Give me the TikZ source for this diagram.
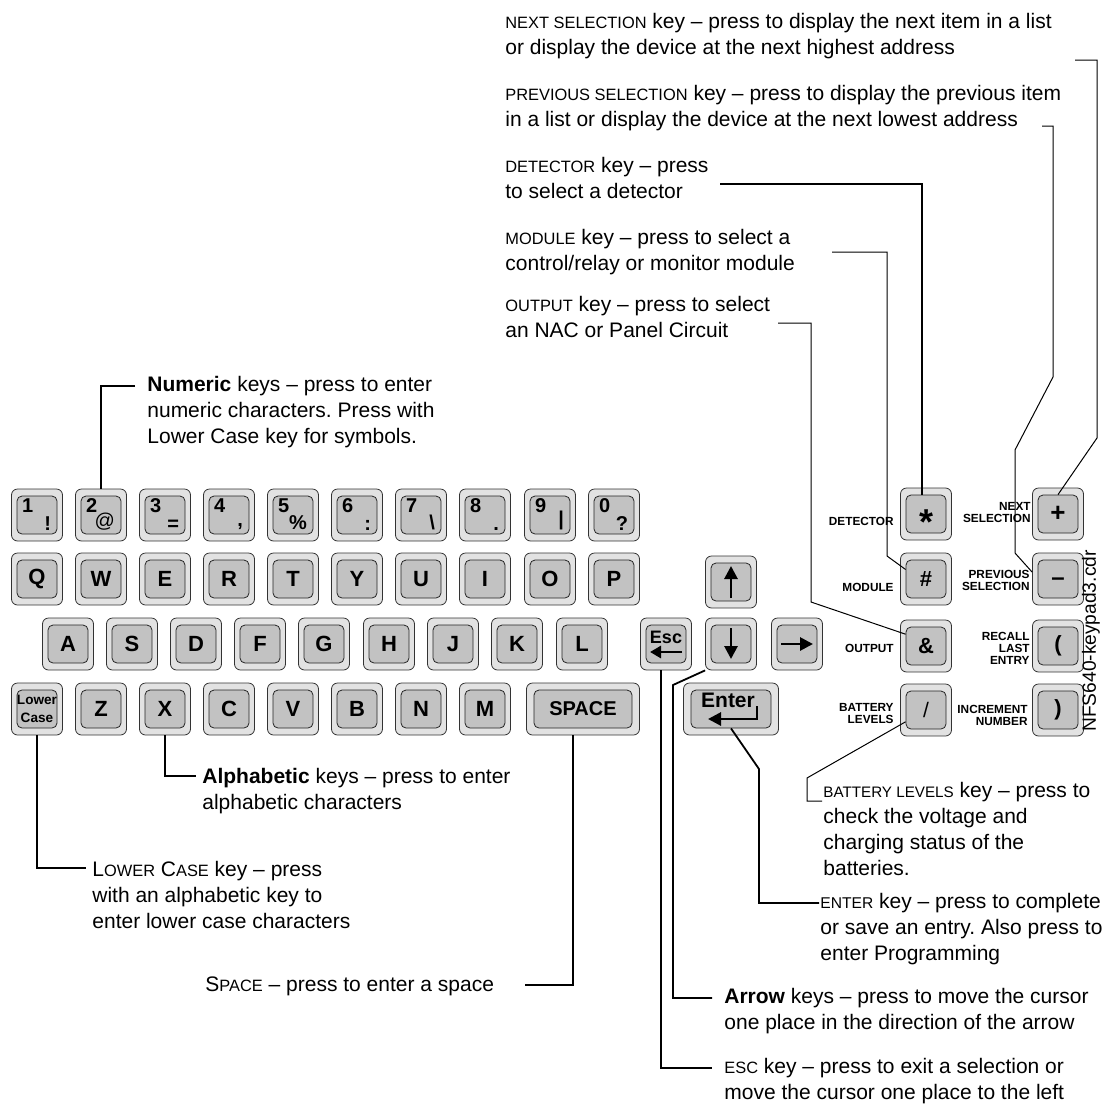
\documentclass[tikz,border=0pt]{standalone}
\usepackage{fontspec}
\setmainfont{Liberation Sans}
\usetikzlibrary{arrows.meta}
\definecolor{keylight}{RGB}{226,226,226}
\definecolor{keygray}{RGB}{194,194,194}
\newcommand\smc[1]{{\fontsize{8.2}{13}\selectfont #1}}
\frenchspacing

\begin{document}
\begin{tikzpicture}[x=0.5pt,y=-0.5pt,
    keyout/.style={draw=black!80,fill=keylight,rounded corners=3pt,
      minimum width=25.5pt,minimum height=26pt,inner sep=0pt},
    keyin/.style={draw=black!85,fill=keygray,rounded corners=2.5pt,
      minimum width=20pt,minimum height=19pt,inner sep=0pt,
      font=\bfseries\fontsize{11}{12}\selectfont},
    dig/.style={anchor=north west,inner sep=0pt,xshift=2.5pt,yshift=-1.2pt,
      font=\bfseries\fontsize{10}{12}\selectfont},
    sym/.style={anchor=south east,inner sep=0pt,xshift=-3pt,yshift=2pt,
      font=\bfseries\fontsize{10}{12}\selectfont},
    keyname/.style={anchor=east,align=right,inner sep=0pt,
      font=\bfseries\fontsize{5.9}{6}\selectfont},
    txt/.style={anchor=north west,align=left,inner sep=0pt,
      font=\fontsize{10.5}{13}\selectfont},
    lead/.style={line width=.9pt},
    thinlead/.style={line width=.5pt},
    keyarrow/.style={line width=1.4pt,-{Triangle[length=6.5pt,width=6.5pt]}}]

  \useasboundingbox (0,0) rectangle (1104,1104);

  % numeric row
  \node[keyout] (k1) at (37,515) {};  \node[keyin,label={[dig]north west:1},label={[sym]south east:!}] (i1) at (k1) {};
  \node[keyout] (k2) at (101,515) {}; \node[keyin,label={[dig]north west:2},label={[sym,font=\fontsize{10}{12}\selectfont]south east:@}] (i2) at (k2) {};
  \node[keyout] (k3) at (165,515) {}; \node[keyin,label={[dig]north west:3},label={[sym]south east:=}] (i3) at (k3) {};
  \node[keyout] (k4) at (229,515) {}; \node[keyin,label={[dig]north west:4},label={[sym]south east:{,}}] (i4) at (k4) {};
  \node[keyout] (k5) at (293,515) {}; \node[keyin,label={[dig]north west:5},label={[sym]south east:\%}] (i5) at (k5) {};
  \node[keyout] (k6) at (357,515) {}; \node[keyin,label={[dig]north west:6},label={[sym]south east::}] (i6) at (k6) {};
  \node[keyout] (k7) at (421,515) {}; \node[keyin,label={[dig]north west:7},label={[sym]south east:\textbackslash}] (i7) at (k7) {};
  \node[keyout] (k8) at (485,515) {}; \node[keyin,label={[dig]north west:8},label={[sym]south east:.}] (i8) at (k8) {};
  \node[keyout] (k9) at (550,515) {}; \node[keyin,label={[dig]north west:9},label={[sym]south east:\textbar}] (i9) at (k9) {};
  \node[keyout] (k0) at (614,515) {}; \node[keyin,label={[dig]north west:0},label={[sym]south east:?}] (i0) at (k0) {};

  % letter rows
  \node[keyout] (kq) at (37,579) {};  \node[keyin] (iq) at (kq) {Q};
  \node[keyout] (kw) at (101,579) {}; \node[keyin] (iw) at (kw) {W};
  \node[keyout] (ke) at (165,579) {}; \node[keyin] (ie) at (ke) {E};
  \node[keyout] (kr) at (229,579) {}; \node[keyin] (ir) at (kr) {R};
  \node[keyout] (kt) at (293,579) {}; \node[keyin] (it) at (kt) {T};
  \node[keyout] (ky) at (357,579) {}; \node[keyin] (iy) at (ky) {Y};
  \node[keyout] (ku) at (421,579) {}; \node[keyin] (iu) at (ku) {U};
  \node[keyout] (ki) at (485,579) {}; \node[keyin] (ii) at (ki) {I};
  \node[keyout] (ko) at (550,579) {}; \node[keyin] (io) at (ko) {O};
  \node[keyout] (kp) at (614,579) {}; \node[keyin] (ip) at (kp) {P};

  \node[keyout] (ka) at (68,644) {};  \node[keyin] (ia) at (ka) {A};
  \node[keyout] (ks) at (132,644) {}; \node[keyin] (is) at (ks) {S};
  \node[keyout] (kd) at (196,644) {}; \node[keyin] (id) at (kd) {D};
  \node[keyout] (kf) at (260,644) {}; \node[keyin] (if) at (kf) {F};
  \node[keyout] (kg) at (324,644) {}; \node[keyin] (ig) at (kg) {G};
  \node[keyout] (kh) at (389,644) {}; \node[keyin] (ih) at (kh) {H};
  \node[keyout] (kj) at (453,644) {}; \node[keyin] (ij) at (kj) {J};
  \node[keyout] (kk) at (517,644) {}; \node[keyin] (ik) at (kk) {K};
  \node[keyout] (kl) at (582,644) {}; \node[keyin] (il) at (kl) {L};

  \node[keyout] (klower) at (37,709) {};
  \node[keyin,align=center,font=\bfseries\fontsize{6.8}{9}\selectfont] (ilower) at (klower) {Lower\\Case};
  \node[keyout] (kz) at (101,709) {}; \node[keyin] (iz) at (kz) {Z};
  \node[keyout] (kx) at (165,709) {}; \node[keyin] (ix) at (kx) {X};
  \node[keyout] (kc) at (229,709) {}; \node[keyin] (ic) at (kc) {C};
  \node[keyout] (kv) at (293,709) {}; \node[keyin] (iv) at (kv) {V};
  \node[keyout] (kb) at (357,709) {}; \node[keyin] (ib) at (kb) {B};
  \node[keyout] (kn) at (421,709) {}; \node[keyin] (in) at (kn) {N};
  \node[keyout] (km) at (485,709) {}; \node[keyin] (im) at (km) {M};
  \node[keyout,minimum width=56.5pt] (kspace) at (583,709) {};
  \node[keyin,minimum width=49pt,font=\bfseries\fontsize{10}{12}\selectfont] (ispace) at (kspace) {SPACE};

  % cursor keys
  \node[keyout] (kup) at (731,582) {};    \node[keyin] (iup) at (kup) {};
  \node[keyout] (kesc) at (666,644) {};   \node[keyin] (iesc) at (kesc) {};
  \node[keyout] (kdown) at (731,644) {};  \node[keyin] (idown) at (kdown) {};
  \node[keyout] (kright) at (797,644) {}; \node[keyin] (iright) at (kright) {};
  \node[keyout,minimum width=47.5pt] (kenter) at (731,709) {};
  \node[keyin,minimum width=40pt] (ienter) at (kenter) {};
  \draw[keyarrow] (731,598) -- (731,566);
  \draw[keyarrow] (731,628) -- (731,659);
  \draw[keyarrow] (781,644) -- (813,644);
  \node[font=\bfseries\fontsize{9}{10}\selectfont,inner sep=0pt] (escl) at (666,637) {Esc};
  \draw[keyarrow,-{Triangle[length=5.5pt,width=6pt]}] (682,652) -- (650,652);
  \node[font=\bfseries\fontsize{10.5}{12}\selectfont,inner sep=0pt] (entl) at (728,700) {Enter};
  \draw[keyarrow] (757,706) -- (757,719) -- (708,719);

  % function keys
  \node[keyout] (kstar) at (926,514) {};
  \node[keyin,label={[font=\bfseries\fontsize{18}{18}\selectfont,yshift=-3.9pt]center:*}] (istar) at (kstar) {};
  \node[keyout] (khash) at (926,579) {};  \node[keyin] (ihash) at (khash) {\#};
  \node[keyout] (kamp) at (926,646) {};   \node[keyin] (iamp) at (kamp) {\&};
  \node[keyout] (kslash) at (926,710) {}; \node[keyin,font=\fontsize{10.5}{12}\selectfont] (islash) at (kslash) {/};
  \node[keyout] (kplus) at (1058,514) {};  \node[keyin,font=\bfseries\fontsize{13}{13}\selectfont] (iplus) at (kplus) {+};
  \node[keyout] (kminus) at (1058,579) {};
  \node[keyin,label={[font=\bfseries\fontsize{12}{12}\selectfont,yshift=-1.4pt]center:–}] (iminus) at (kminus) {};
  \node[keyout] (kopen) at (1058,646) {};  \node[keyin] (iopen) at (kopen) {(};
  \node[keyout] (kclose) at (1058,710) {}; \node[keyin] (iclose) at (kclose) {)};

  \node[keyname] (ndet) at (894,521) {DETECTOR};
  \node[keyname] (nmod) at (894,587) {MODULE};
  \node[keyname] (nout) at (894,648) {OUTPUT};
  \node[keyname] (nbat) at (894,713) {BATTERY\\LEVELS};
  \node[keyname] (nnext) at (1031,512) {NEXT\\SELECTION};
  \node[keyname] (nprev) at (1030,580) {PREVIOUS\\SELECTION};
  \node[keyname] (nrecall) at (1030,648) {RECALL\\LAST\\ENTRY};
  \node[keyname] (ninc) at (1028,715) {INCREMENT\\NUMBER};

  \node[rotate=90,inner sep=0pt,font=\fontsize{9.6}{10}\selectfont] (fname) at (1091,641) {NFS640-keypad3.cdr};

  % callout texts
  \node[txt] (tnext) at (505,13) {\smc{NEXT SELECTION} key – press to display the next item in a list\\or display the device at the next highest address};
  \node[txt] (tprev) at (505,85) {\smc{PREVIOUS SELECTION} key – press to display the previous item\\in a list or display the device at the next lowest address};
  \node[txt] (tdet) at (505,157) {\smc{DETECTOR} key – press\\to select a detector};
  \node[txt] (tmod) at (505,229) {\smc{MODULE} key – press to select a\\control/relay or monitor module};
  \node[txt] (tout) at (505,296) {\smc{OUTPUT} key – press to select\\an NAC or Panel Circuit};
  \node[txt] (tnum) at (147,376) {\textbf{Numeric} keys – press to enter\\numeric characters. Press with\\Lower Case key for symbols.};
  \node[txt] (talpha) at (202,768) {\textbf{Alphabetic} keys – press to enter\\alphabetic characters};
  \node[txt] (tlower) at (92,861) {L\smc{OWER} C\smc{ASE} key – press\\with an alphabetic key to\\enter lower case characters};
  \node[txt] (tspace) at (205,976) {S\smc{PACE} – press to enter a space};
  \node[txt] (tbat) at (823,782) {{\fontsize{7.6}{13}\selectfont BATTERY LEVELS} key – press to\\check the voltage and\\charging status of the\\batteries.};
  \node[txt] (tenter) at (820,893) {{\fontsize{7.8}{13}\selectfont ENTER} key – press to complete\\or save an entry. Also press to\\enter Programming};
  \node[txt] (tarrow) at (724,988) {\textbf{Arrow} keys – press to move the cursor\\one place in the direction of the arrow};
  \node[txt] (tesc) at (724,1058) {\smc{ESC} key – press to exit a selection or\\move the cursor one place to the left};

  % leader ends
  \coordinate (cnext) at (1075,60);
  \coordinate (cprev) at (1042,126);
  \coordinate (cdet) at (720,184);
  \coordinate (cmod) at (832,252);
  \coordinate (cout) at (778,323);
  \coordinate (cnum) at (135,386);
  \coordinate (calpha) at (196,776);
  \coordinate (clower) at (86,868);
  \coordinate (cspace) at (525,985);
  \coordinate (cbat) at (822,801);
  \coordinate (center) at (819,903);
  \coordinate (carrow) at (712,998);
  \coordinate (cesc) at (712,1068);

  \draw[thinlead] (cnext) -- (1097,60) -- (1097,438) -- (iplus.north);
  \draw[thinlead] (cprev) -- (1053,126) -- (1053,377) -- (1015,450) -- (1015,553) -- (kminus.165);
  \draw[lead] (cdet) -- (922,184) -- (istar.north -| 922,0);
  \draw[thinlead] (cmod) -- (887,252) -- (887,556) -- (ihash.155);
  \draw[thinlead] (cout) -- (811,323) -- (811,602) -- (iamp.150);
  \draw[lead] (cnum) -| (k2.north);
  \draw[lead] (kx.south) |- (calpha);
  \draw[lead] (klower.south) |- (clower);
  \draw[lead] (kspace.-110) |- (cspace);
  \draw[thinlead] (islash.210) -- (807,778) -- (807,801) -- (cbat);
  \draw[lead] (ienter.south) -- (759,769) -- (759,903) -- (center);
  \draw[lead] (kdown.south west) -- (673,685) -- (673,998) -- (carrow);
  \draw[lead] (kesc.-100) |- (cesc);

\end{tikzpicture}
\end{document}
